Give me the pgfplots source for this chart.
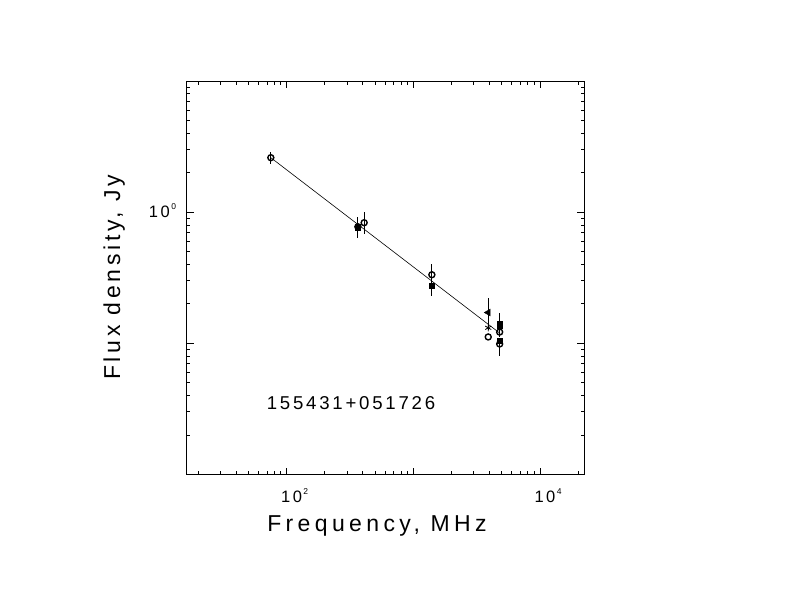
\documentclass[border=0pt]{standalone}
\usepackage{pgfplots}
\pgfplotsset{compat=1.18}
\usepackage{fontspec}
\setmainfont{Liberation Sans}[LetterSpace=15]
\newcommand\pw[1]{10\hspace{1.5bp}\raisebox{0.9ex}{\fontsize{8.5bp}{8.5bp}\selectfont #1}}
\begin{document}
\begin{tikzpicture}
\useasboundingbox[fill=white] (0,0) rectangle (792bp,612bp);
\begin{axis}[
  at={(186.7bp,137.5bp)}, anchor=south west,
  scale only axis, width=397.3bp, height=393.3bp,
  xmode=log, ymode=log,
  xmin=16.26, xmax=22230, ymin=0.01, ymax=10,
  axis line style={line width=1bp},
  tick align=inside, tick pos=both,
  every tick/.style={black, line width=1bp},
  major tick length=7bp, minor tick length=3.5bp,
  xtick={100,1000,10000}, xticklabels={\pw{2},,\pw{4}},
  minor xtick={20,30,40,50,60,70,80,90,200,300,400,500,600,700,800,900,2000,3000,4000,5000,6000,7000,8000,9000,20000},
  ytick={0.1,1}, yticklabels={,\pw{0}},
  minor ytick={0.02,0.03,0.04,0.05,0.06,0.07,0.08,0.09,0.2,0.3,0.4,0.5,0.6,0.7,0.8,0.9,2,3,4,5,6,7,8,9},
  xticklabel style={font=\fontsize{16.5bp}{16.5bp}\selectfont, anchor=base, inner sep=0pt, xshift=8bp, yshift=-27.5bp},
  yticklabel style={font=\fontsize{16.5bp}{16.5bp}\selectfont, anchor=east, inner sep=0pt, xshift=-10.5bp, yshift=2bp},
  clip=false,
]
% fitted spectrum
\addplot[black, line width=0.6bp] coordinates {(75,2.61) (4850,0.119)};
% open circles
\addplot[only marks, mark=o, mark size=3bp, mark options={line width=1.4bp},
  error bars/.cd, y dir=both, y explicit, error mark=none,
  error bar style={line width=1.1bp}]
  coordinates {
  (75,2.61) += (0,0.29) -= (0,0.27)
  (365,0.776) += (0,0.15) -= (0,0.136)
  (409,0.833) += (0,0.18) -= (0,0.15)
  (1400,0.334) += (0,0.069) -= (0,0.06)
  (3900,0.112) += (0,0) -= (0,0)
  (4800,0.122) += (0,0.01) -= (0,0.01)
  (4800,0.099) += (0,0.01) -= (0,0.019)
  };
% filled squares
\addplot[only marks, mark=square*, mark size=2.6bp,
  error bars/.cd, y dir=both, y explicit, error mark=none,
  error bar style={line width=1.1bp}]
  coordinates {
  (365,0.77) += (0,0) -= (0,0)
  (1400,0.275) += (0,0.05) -= (0,0.044)
  (4800,0.142) += (0,0.028) -= (0,0.02)
  (4800,0.137) += (0,0) -= (0,0)
  (4800,0.105) += (0,0) -= (0,0)
  };
% filled triangle
\addplot[only marks, mark=triangle*, mark size=4bp, mark options={rotate=90},
  error bars/.cd, y dir=both, y explicit, error mark=none,
  error bar style={line width=1.1bp}]
  coordinates {(3900,0.172) += (0,0.05) -= (0,0.046)};
% asterisk
\addplot[only marks, mark=asterisk, mark size=3.5bp, mark options={line width=0.8bp}]
  coordinates {(3900,0.1315)};
\end{axis}
\node[anchor=base, inner sep=0pt, font=\fontsize{23bp}{23bp}\selectfont\addfontfeature{LetterSpace=19}] at (377bp,80.3bp) {Frequency, MHz};
\node[anchor=base, inner sep=0pt, rotate=90, font=\fontsize{23bp}{23bp}\selectfont\addfontfeature{LetterSpace=16}] at (120bp,334.5bp) {Flux density, Jy};
\node[anchor=center, inner sep=0pt, font=\fontsize{18.6bp}{18.6bp}\selectfont] at (351bp,209.3bp) {155431+051726};
\end{tikzpicture}
\end{document}
